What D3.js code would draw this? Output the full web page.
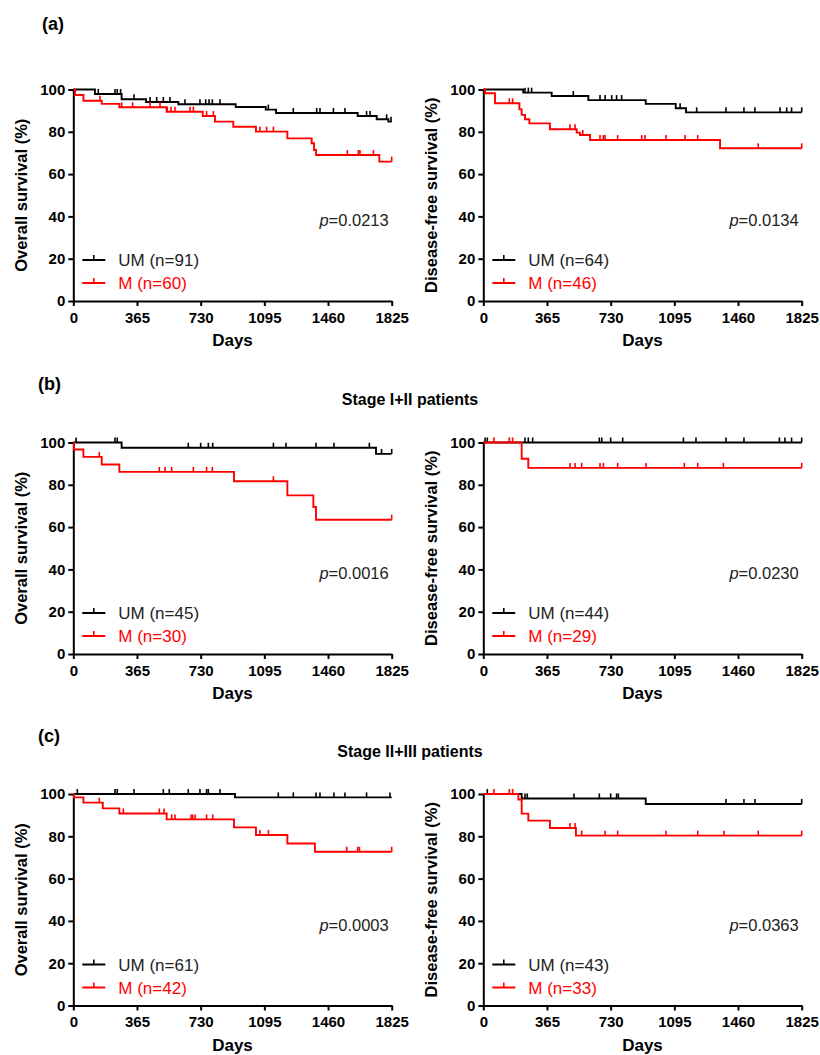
<!DOCTYPE html>
<html>
<head>
<meta charset="utf-8">
<script src="https://cdn.jsdelivr.net/npm/d3@7"></script>
<style>
body{margin:0;background:#fff}
svg{display:block}
</style>
</head>
<body>
<div id="chart"></div>
<script>
// Kaplan-Meier panels: OS (left) and DFS (right) for all / stage I+II / stage II+III

var dayTicks=[0,365,730,1095,1460,1825];
var pctTicks=[0,20,40,60,80,100];
var rowLabels=['(a)','(b)','(c)'];
var rowTitles=['','Stage I+II patients','Stage II+III patients'];
var yTitles=['Overall survival (%)','Disease-free survival (%)'];
var pValues=['0.0213','0.0134','0.0016','0.0230','0.0003','0.0363'];
var umN=[91,64,45,44,61,43];
var mN=[60,46,30,29,42,33];

// step events [day, survival % after event] and censor days
var osAllUM=[[124,97.9],[277,95.4],[417,94.1],[602,93.0],[931,91.7],[1103,90.5],[1162,88.9],[1630,87.5],[1739,85.9],[1806,84.8]];
var osAllUMc=[143,239,252,271,348,440,478,516,554,640,726,759,778,797,841,1118,1261,1395,1414,1491,1557,1681,1701,1796,1821];
var osAllM=[[10,97.4],[58,94.7],[163,93.2],[264,91.6],[535,89.5],[742,87.5],[812,84.8],[917,82.4],[1047,80.1],[1227,76.9],[1366,74.6],[1380,71.4],[1391,69.0],[1754,65.9]];
var osAllMc=[153,277,340,440,497,539,560,583,669,688,764,803,1070,1108,1147,1571,1634,1643,1720,1825];

var dfsAllUM=[[229,98.5],[392,96.9],[602,95.0],[931,93.2],[1103,91.1],[1162,89.2]];
var dfsAllUMc=[239,258,277,516,669,698,736,764,793,1128,1223,1391,1494,1557,1701,1739,1767,1825];
var dfsAllM=[[10,98.2],[67,93.5],[207,90.6],[220,88.0],[239,85.9],[264,84.0],[382,81.2],[535,79.6],[554,78.5],[612,76.1],[1357,72.2]];
var dfsAllMc=[149,168,497,526,570,669,688,698,770,908,927,1047,1156,1229,1576,1825];

var osS12UM=[[277,97.5],[1735,94.6]];
var osS12UMc=[16,239,252,659,730,774,799,1147,1219,1391,1494,1697,1767,1825];
var osS12M=[[4,96.7],[58,93.2],[163,89.6],[264,86.1],[921,81.7],[1227,75.0],[1376,69.5],[1391,63.5]];
var osS12Mc=[149,493,526,564,688,764,797,1147,1825];

var dfsS12UM=[];
var dfsS12UMc=[10,23,239,258,283,665,679,730,799,1147,1219,1391,1494,1697,1729,1767,1825];
var dfsS12M=[[220,92.3],[258,88.0]];
var dfsS12Mc=[61,149,168,497,526,564,669,688,770,933,1152,1229,1376,1825];

var osS23UM=[[927,98.4]];
var osS23UMc=[23,239,252,348,516,550,659,726,764,774,841,1175,1261,1391,1414,1494,1557,1681,1815];
var osS23M=[[4,98.4],[58,95.9],[169,93.2],[264,90.8],[535,88.0],[921,84.2],[1047,80.6],[1227,76.6],[1385,72.7]];
var osS23Mc=[149,287,493,520,564,583,675,684,698,764,799,1070,1118,1567,1630,1640,1825];

var dfsS23UM=[[220,97.9],[931,95.3]];
var dfsS23UMc=[23,239,252,520,665,730,764,774,1391,1494,1557,1825];
var dfsS23M=[[201,97.4],[220,90.7],[258,87.4],[382,83.9],[531,80.3]];
var dfsS23Mc=[61,149,168,497,526,564,698,770,1047,1229,1380,1576,1825];

var panels=[
  {um:osAllUM,umc:osAllUMc,m:osAllM,mc:osAllMc},
  {um:dfsAllUM,umc:dfsAllUMc,m:dfsAllM,mc:dfsAllMc},
  {um:osS12UM,umc:osS12UMc,m:osS12M,mc:osS12Mc},
  {um:dfsS12UM,umc:dfsS12UMc,m:dfsS12M,mc:dfsS12Mc},
  {um:osS23UM,umc:osS23UMc,m:osS23M,mc:osS23Mc},
  {um:dfsS23UM,umc:dfsS23UMc,m:dfsS23M,mc:dfsS23Mc}
];

var W=820,H=1055;
var F='"Liberation Sans",Arial,Helvetica,sans-serif';
var colX=[73.3,483.3], plotW=318.4;
var rowY0=[301,654,1005.5], plotH=211.5;
var BLACK='#000', RED='#ff0000';

var svg=d3.select('#chart').append('svg').attr('width',W).attr('height',H);

// row labels + titles
rowLabels.forEach(function(t,i){
  svg.append('text').attr('x',i?38:42).attr('y',i?rowY0[i]-264:30).attr('font-family',F).attr('font-size',18).attr('font-weight','bold').text(t);
  if(rowTitles[i])svg.append('text').attr('x',410).attr('y',rowY0[i]-249).attr('text-anchor','middle').attr('font-family',F).attr('font-size',16).attr('font-weight','bold').text(rowTitles[i]);
});

function survAt(drops,t){
  var i=d3.bisector(function(d){return d[0]}).right(drops,t)-1;
  return i<0?100:drops[i][1];
}

panels.forEach(function(p,k){
  var row=Math.floor(k/2), col=k%2;
  var ax=colX[col], y0=rowY0[row];
  var x=d3.scaleLinear().domain([0,1825]).range([ax,ax+plotW]);
  var y=d3.scaleLinear().domain([0,100]).range([y0,y0-plotH]);
  var g=svg.append('g');

  // axes
  var xa=g.append('g').attr('transform','translate(0,'+y0+')')
    .call(d3.axisBottom(x).tickValues(dayTicks).tickFormat(d3.format('d')).tickSize(5).tickPadding(6).tickSizeOuter(0));
  var ya=g.append('g').attr('transform','translate('+ax+',0)')
    .call(d3.axisLeft(y).tickValues(pctTicks).tickFormat(d3.format('d')).tickSize(5).tickPadding(3).tickSizeOuter(0));
  [xa,ya].forEach(function(a){
    a.select('.domain').attr('stroke','#000').attr('stroke-width',2);
    a.selectAll('.tick line').attr('stroke','#000').attr('stroke-width',2);
    a.selectAll('.tick text').attr('font-family',F).attr('font-size',15).attr('font-weight','bold').attr('fill','#000');
  });

  g.append('text').attr('x',ax+plotW/2).attr('y',y0+45).attr('text-anchor','middle')
    .attr('font-family',F).attr('font-size',17).attr('font-weight','bold').text('Days');
  g.append('text').attr('transform','translate('+(ax-46)+','+(y0-plotH/2)+') rotate(-90)')
    .attr('text-anchor','middle').attr('font-family',F).attr('font-size',16.5).attr('font-weight','bold').text(yTitles[col]);

  // curves
  var line=d3.line().x(function(d){return x(d[0])}).y(function(d){return y(d[1])}).curve(d3.curveStepAfter);
  [[p.um,p.umc,BLACK],[p.m,p.mc,RED]].forEach(function(s){
    var drops=s[0], last=drops.length?drops[drops.length-1][1]:100;
    var pts=[[0,100]].concat(drops).concat([[1825,last]]);
    g.append('path').datum(pts).attr('d',line).attr('fill','none').attr('stroke',s[2]).attr('stroke-width',1.9);
    g.selectAll(null).data(s[1]).enter().append('line')
      .attr('x1',function(t){return x(t)}).attr('x2',function(t){return x(t)})
      .attr('y1',function(t){return y(survAt(drops,t))}).attr('y2',function(t){return y(survAt(drops,t))-5})
      .attr('stroke',s[2]).attr('stroke-width',1.6);
  });

  // legend
  [['UM (n='+umN[k]+')',BLACK,'#222',41],['M (n='+mN[k]+')',RED,RED,18]].forEach(function(l){
    var ly=y0-l[3];
    g.append('line').attr('x1',ax+9).attr('x2',ax+32).attr('y1',ly).attr('y2',ly).attr('stroke',l[1]).attr('stroke-width',2);
    g.append('line').attr('x1',ax+20.5).attr('x2',ax+20.5).attr('y1',ly).attr('y2',ly-5).attr('stroke',l[1]).attr('stroke-width',1.6);
    g.append('text').attr('x',ax+45).attr('y',ly+6).attr('font-family',F).attr('font-size',17).attr('fill',l[2]).text(l[0]);
  });

  // p value
  var pt=g.append('text').attr('x',ax+plotW-3).attr('y',y0-75).attr('text-anchor','end')
    .attr('font-family',F).attr('font-size',16.5).attr('fill','#222');
  pt.append('tspan').attr('font-style','italic').text('p');
  pt.append('tspan').text('='+pValues[k]);
});
</script>
</body>
</html>
